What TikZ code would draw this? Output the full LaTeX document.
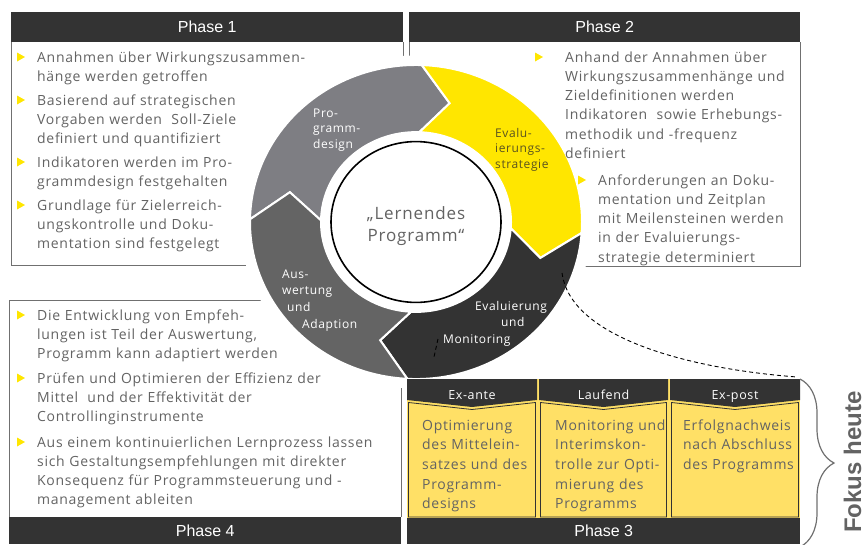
\documentclass[tikz,border=0pt]{standalone}
\usepackage{fontspec}
\setmainfont[LetterSpace=5]{Open Sans}
\newfontfamily\hdfont{Liberation Sans}
\usetikzlibrary{positioning,decorations.pathreplacing}

\definecolor{eydark}{HTML}{333333}
\definecolor{eyyellow}{HTML}{FFE600}
\definecolor{eylight}{HTML}{FFE066}
\definecolor{eygrayA}{HTML}{7E7E83}
\definecolor{eygrayB}{HTML}{646464}
\definecolor{eytext}{HTML}{636363}
\definecolor{eyline}{HTML}{707070}
\definecolor{eyolive}{HTML}{5A5320}

\begin{document}
\begin{tikzpicture}[x=1pt,y=1pt,
    phase/.style={fill=eydark,text=white,font=\hdfont\fontsize{16}{16}\selectfont,
      minimum height=30pt,inner sep=0pt,anchor=north west},
    boxline/.style={draw=eyline,line width=0.9pt},
    item/.style={anchor=base west,align=left,inner sep=0pt,text=eytext,text width=360pt,
      font=\fontsize{14}{19.3}\selectfont},
    seglbl/.style={anchor=base west,align=left,inner sep=0pt,text=white,text width=90pt,
      font=\fontsize{12}{15.5}\selectfont},
    colhead/.style={anchor=base,text=white,font=\fontsize{12.5}{12.5}\selectfont,inner sep=0pt},
    dashline/.style={draw=black,dash pattern=on 4pt off 3pt,line width=0.9pt},
    bul/.pic={\fill[eyyellow] (0,0) -- (0,9) -- (8,4.5) -- cycle;}]
  \useasboundingbox (0,0) rectangle (866,-544);

  % phase headers and their frames
  \node[phase,minimum width=392pt] (ph1) at (11,-12) {Phase 1};
  \node[phase,minimum width=391pt] (ph2) at (409,-12) {Phase 2};
  \node[phase,minimum width=392pt,minimum height=27pt] (ph4) at (9,-517) {Phase 4};
  \draw[boxline] (ph1.south west) -- ++(0,-223) -| (ph1.south east);
  \draw[boxline] (ph2.south west) -- ++(0,-224) -| (ph2.south east);
  \draw[boxline] (ph4.north west) -- ++(0,217) -| (ph4.north east);

  % the cycle
  \begin{scope}[shift={(416,-222)},yscale=0.946]
    \fill[white] (0,0) circle[radius=176];
    \foreach \a/\e/\c in {179/88/eygrayA,88/-4/eyyellow,-4/-93/eydark,-93/-181/eygrayB}
      \filldraw[fill=\c,draw=white,line width=2pt,line join=miter]
        (\a:166) arc[start angle=\a,end angle=\e,radius=166] -- ({\e-13}:130)
        -- (\e:95) arc[start angle=\e,end angle=\a,radius=95] -- ({\a-13}:130) -- cycle;
    \filldraw[fill=white,draw=black,line width=1.6pt] (0,0) circle[radius=85];
  \end{scope}
  \node[align=center,text=eytext,font=\fontsize{17}{22}\selectfont] (cen) at (416,-226)
    {„Lernendes\\Programm“};

  % phase 3 columns
  \fill[eylight] (407,-379) rectangle (800,-518);
  \foreach \xl/\xr/\n/\t in {407/537/ea/Ex-ante,539/668/lf/Laufend,670/800/ep/Ex-post}{
    \pgfmathsetmacro\xm{(\xl+\xr)/2}
    \fill[eydark] (\xl,-379) -- (\xr,-379) -- (\xr,-400) -- (\xm,-407) -- (\xl,-400) -- cycle;
    \draw[eydark,line width=0.8pt] (\xl+1.5,-402.5) -- (\xm,-409.5) -- (\xr-1.5,-402.5)
      |- (\xl+1.5,-517) -- cycle;
    \node[colhead] (\n) at (\xm,-399) {\t};
  }
  \node[phase,minimum width=393pt,minimum height=26pt] (ph3) at (407,-518) {Phase 3};

  \coordinate (ml1) at (438,-339);
  \coordinate (ml2) at (434,-357);
  \coordinate (mr) at (562,-273);
  \coordinate (pr) at (797,-377);
  \draw[dashline] (ml1) -- (ml2);
  \draw[dashline] (mr) .. controls (570,-335) and (680,-368) .. (pr);

  \coordinate (bt) at (800,-379);
  \coordinate (bb) at (800,-547);
  \draw[eyline,line width=1.2pt,decorate,decoration={brace,amplitude=34pt}] (bt) -- (bb);
  \node[rotate=90,anchor=base,inner sep=0pt,text=eytext,
    font=\hdfont\bfseries\fontsize{24}{24}\selectfont] (fok) at (861,-462) {Fokus heute};

  % labels on the cycle
  \node[seglbl] (sa) at (313,-117) {Pro-\\gramm-\\design};
  \node[seglbl,text=eyolive] (sb) at (495,-137) {Evalu-\\ierungs-\\strategie};
  \node[seglbl,font=\fontsize{12}{16.5}\selectfont] (sc) at (443,-310)
    {\hspace*{32pt}Evaluierung\\\hspace*{58pt}und\\Monitoring};
  \node[seglbl,font=\fontsize{12}{16.7}\selectfont] (sd) at (282,-278)
    {Aus-\\wertung\\\hspace*{5pt}und\\\hspace*{20pt}Adaption};

  % phase 1
  \node[item] (p1a) at (37,-62) {Annahmen über Wirkungszusammen-\\hänge werden getroffen};
  \node[item] (p1b) at (37,-105) {Basierend auf strategischen\\Vorgaben werden \ Soll-Ziele\\definiert und quantifiziert};
  \node[item] (p1c) at (37,-167) {Indikatoren werden im Pro-\\grammdesign festgehalten};
  \node[item] (p1d) at (37,-210) {Grundlage für Zielerreich-\\ungskontrolle und Doku-\\mentation sind festgelegt};
  \foreach \y in {62,105,167,210} \pic at (17,-\y+0.5) {bul};

  % phase 2
  \node[item] (p2a) at (565,-62) {Anhand der Annahmen über\\Wirkungszusammenhänge und\\Zieldefinitionen werden\\Indikatoren \ sowie Erhebungs-\\methodik und -frequenz\\definiert};
  \node[item] (p2b) at (598,-185) {Anforderungen an Doku-\\mentation und Zeitplan\\mit Meilensteinen werden\\in der Evaluierungs-\\strategie determiniert};
  \pic at (535,-61.5) {bul};
  \pic at (578,-184.5) {bul};

  % phase 4
  \node[item] (p4a) at (37,-320) {Die Entwicklung von Empfeh-\\lungen ist Teil der Auswertung,\\Programm kann adaptiert werden};
  \node[item] (p4b) at (37,-383) {Prüfen und Optimieren der Effizienz der\\Mittel \ und der Effektivität der\\Controllinginstrumente};
  \node[item] (p4c) at (37,-447) {Aus einem kontinuierlichen Lernprozess lassen\\sich Gestaltungsempfehlungen mit direkter\\Konsequenz für Programmsteuerung und -\\management ableiten};
  \foreach \y in {320,383,447} \pic at (17,-\y+0.5) {bul};

  % phase 3
  \node[item,text width=125pt,font=\fontsize{14}{19.7}\selectfont] (p3a) at (422,-430) {Optimierung\\des Mittelein-\\satzes und des\\Programm-\\designs};
  \node[item,text width=125pt,font=\fontsize{14}{19.7}\selectfont] (p3b) at (555,-430) {Monitoring und\\Interimskon-\\trolle zur Opti-\\mierung des\\Programms};
  \node[item,text width=125pt,font=\fontsize{14}{19.7}\selectfont] (p3c) at (683,-430) {Erfolgnachweis\\nach Abschluss\\des Programms};
\end{tikzpicture}
\end{document}
